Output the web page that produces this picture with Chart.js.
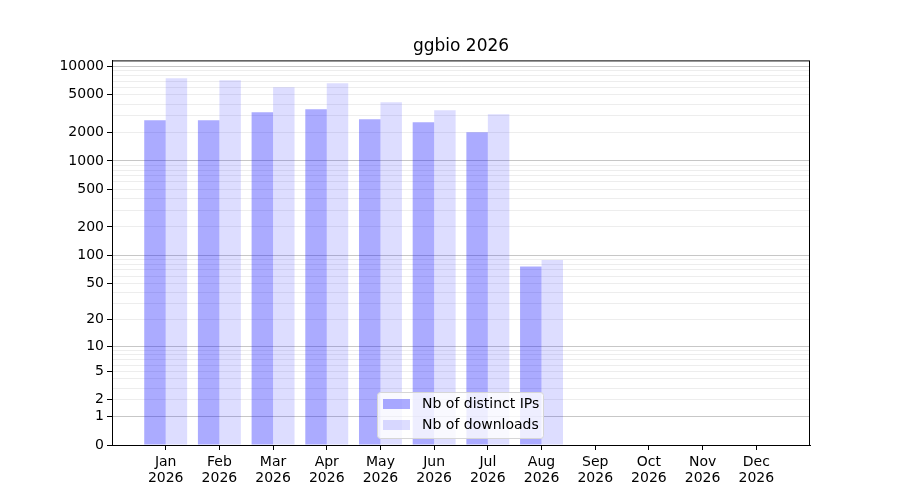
<!DOCTYPE html>
<html>
<head>
<meta charset="utf-8">
<script src="https://cdn.jsdelivr.net/npm/chart.js@4/dist/chart.umd.min.js"></script>
<style>
  html, body { margin: 0; padding: 0; background: #fff; }
  #wrap { width: 900px; height: 500px; }
</style>
</head>
<body>
<div id="wrap"><canvas id="chart"></canvas></div>
<script>
const months = ['Jan', 'Feb', 'Mar', 'Apr', 'May', 'Jun', 'Jul', 'Aug', 'Sep', 'Oct', 'Nov', 'Dec'];
const year = '2026';
const distinctIPs = [2690, 2690, 3270, 3520, 2760, 2560, 2010, 76];
const downloads = [7470, 7120, 6000, 6620, 4170, 3430, 3110, 89];
const labelledTicks = [0, 1, 2, 5, 10, 20, 50, 100, 200, 500, 1000, 2000, 5000, 10000];
const majorTicks = [1, 10, 100, 1000, 10000];

// the y axis is log10(n + 1), so 0 can sit at the bottom
const toAxis = v => Math.log10(v + 1);
const fromAxis = v => Math.round(Math.pow(10, v) - 1);

function allYTicks() {
  const set = new Set(labelledTicks);
  for (let d = 1; d <= 1000; d *= 10) {
    for (let k = 2; k <= 9; k++) set.add(k * d);
  }
  return [...set].sort((a, b) => a - b);
}

const FONT = 'DejaVu Sans';

const framePlugin = {
  id: 'frame',
  afterDraw(chart) {
    const { ctx, chartArea: a } = chart;
    ctx.save();
    ctx.strokeStyle = '#000';
    ctx.lineWidth = 1;
    ctx.strokeRect(a.left + 0.5, a.top + 0.5, a.right - a.left - 1, a.bottom - a.top);

    // legend box, bottom centre of the plot
    const w = 166, h = 46;
    const x = Math.round((a.left + a.right) / 2 - w / 2 - 1);
    const y = a.bottom - h - 7;
    ctx.fillStyle = 'rgba(255,255,255,0.8)';
    ctx.strokeStyle = '#d6d6d6';
    ctx.beginPath();
    ctx.roundRect(x + 0.5, y + 0.5, w, h, 3);
    ctx.fill();
    ctx.stroke();

    const items = chart.data.datasets;
    ctx.font = '14px "' + FONT + '"';
    ctx.textBaseline = 'middle';
    items.forEach((ds, i) => {
      const cy = y + 12 + i * 21;
      ctx.fillStyle = ds.backgroundColor;
      ctx.fillRect(x + 6, cy - 5, 27, 10);
      ctx.fillStyle = '#000';
      ctx.fillText(ds.label, x + 45, cy);
    });
    ctx.restore();
  }
};

new Chart(document.getElementById('chart'), {
  type: 'bar',
  data: {
    datasets: [
      {
        label: 'Nb of distinct IPs',
        data: distinctIPs.map((v, i) => ({ x: i, y: toAxis(v) })),
        backgroundColor: 'rgba(0,0,255,0.33)'
      },
      {
        label: 'Nb of downloads',
        data: downloads.map((v, i) => ({ x: i, y: toAxis(v) })),
        backgroundColor: 'rgba(0,0,255,0.135)'
      }
    ]
  },
  options: {
    responsive: true,
    maintainAspectRatio: false,
    animation: false,
    categoryPercentage: 0.8,
    barPercentage: 1.0,
    layout: { padding: { left: 0, right: 90, top: 0, bottom: 0 } },
    plugins: {
      legend: { display: false },
      tooltip: { enabled: false },
      title: {
        display: true,
        text: 'ggbio ' + year,
        fullSize: false,
        color: '#000',
        font: { family: FONT, size: 17, weight: 'normal', lineHeight: 1.2 },
        padding: { top: 36, bottom: 4 }
      }
    },
    scales: {
      x: {
        type: 'linear',
        min: -1,
        max: 12,
        offset: false,
        afterFit: s => { s.height = 55; },
        afterBuildTicks: s => { s.ticks = months.map((m, i) => ({ value: i })); },
        grid: { offset: false, drawOnChartArea: false, tickLength: 5, tickColor: '#000' },
        border: { color: '#000', width: 1 },
        ticks: {
          color: '#000',
          padding: 5,
          maxRotation: 0,
          autoSkip: false,
          font: { family: FONT, size: 14, lineHeight: 1.1 },
          callback: v => [months[v], year]
        }
      },
      y: {
        type: 'linear',
        min: 0,
        max: 4.063,
        afterFit: s => { s.width = 112; },
        afterBuildTicks: s => { s.ticks = allYTicks().map(t => ({ value: toAxis(t) })); },
        grid: {
          tickLength: 5,
          color: c => {
            const n = fromAxis(c.tick.value);
            if (n === 0) return 'rgba(0,0,0,0)';
            return majorTicks.includes(n) ? 'rgba(0,0,0,0.22)' : 'rgba(0,0,0,0.07)';
          },
          tickColor: c => labelledTicks.includes(fromAxis(c.tick.value)) ? '#000' : 'rgba(0,0,0,0)'
        },
        border: { color: '#000', width: 1 },
        ticks: {
          color: '#000',
          padding: 3,
          autoSkip: false,
          font: { family: FONT, size: 14 },
          callback: v => {
            const n = fromAxis(v);
            return labelledTicks.includes(n) ? String(n) : '';
          }
        }
      }
    }
  },
  plugins: [framePlugin]
});
</script>
</body>
</html>
